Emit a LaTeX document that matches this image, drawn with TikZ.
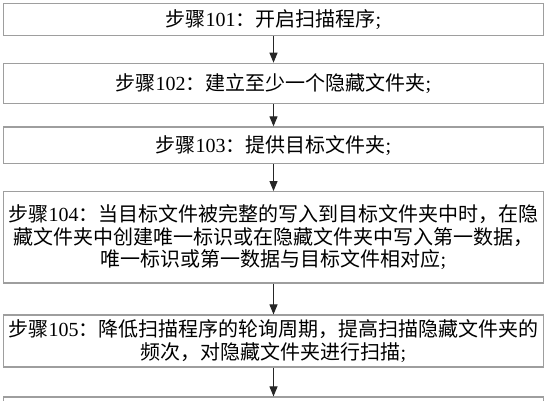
\documentclass[tikz,border=0pt]{standalone}
\usepackage{fontspec}
\setmainfont{Liberation Serif}
\newfontfamily\cjk{Noto Sans CJK SC}
\newcommand\zh[1]{{\cjk #1}}
\usetikzlibrary{arrows.meta}
\begin{document}
\begin{tikzpicture}[x=1pt,y=-1pt,
  stepbox/.style={draw=black!38,line width=1.2pt,rectangle,minimum width=540.4pt,
    inner sep=0pt,align=center,text=black,font=\fontsize{20}{22.5}\selectfont},
  flowarrow/.style={draw=black!85,line width=1pt,-{Triangle[length=10pt,width=8pt]}}]
\useasboundingbox (0,0) rectangle (548,400);
\clip (0,0) rectangle (548,400);
\fill[white] (0,0) rectangle (548,400);
\node[stepbox,minimum height=32.4pt] (s1) at (273.5,19.5) {\zh{步骤}101\zh{：开启扫描程序};};
\node[stepbox,minimum height=40.4pt] (s2) at (273.5,83.5) {\zh{步骤}102\zh{：建立至少一个隐藏文件夹};};
\node[stepbox,minimum height=36.7pt] (s3) at (273.5,145.3) {\zh{步骤}103\zh{：提供目标文件夹};};
\node[stepbox,minimum height=91.3pt] (s4) at (273.5,237.3) {\zh{步骤}104\zh{：当目标文件被完整的写入到目标文件夹中时，在隐}\\\zh{藏文件夹中创建唯一标识或在隐藏文件夹中写入第一数据，}\\\zh{唯一标识或第一数据与目标文件相对应};};
\node[stepbox,minimum height=52pt] (s5) at (273.5,341) {\zh{步骤}105\zh{：降低扫描程序的轮询周期，提高扫描隐藏文件夹的}\\\zh{频次，对隐藏文件夹进行扫描};};
\node[stepbox,minimum height=40pt] (s6) at (273.5,417) {};
\draw[flowarrow] (s1.south) -- (s2.north);
\draw[flowarrow] (s2.south) -- (s3.north);
\draw[flowarrow] (s3.south) -- (s4.north);
\draw[flowarrow] (s4.south) -- (s5.north);
\draw[flowarrow] (s5.south) -- (s6.north);
\end{tikzpicture}
\end{document}
